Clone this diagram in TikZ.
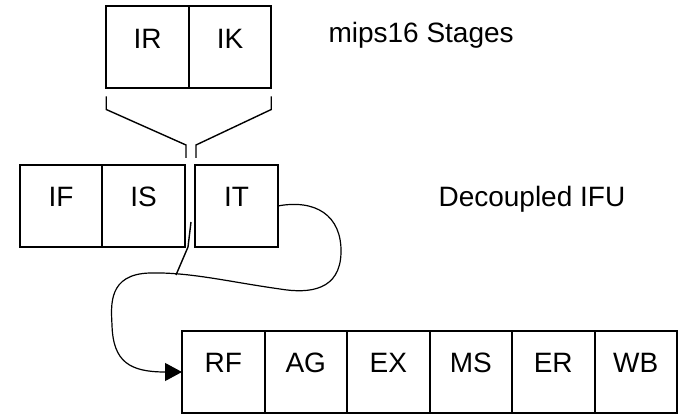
\documentclass[tikz,border=0pt]{standalone}
\usepackage{fontspec}
\setmainfont{Liberation Sans}
\usepackage{tikz}
\usetikzlibrary{positioning,arrows.meta}

\begin{document}
\begin{tikzpicture}[x=1pt,y=-1pt,
	stage/.style={draw, line width=2pt, outer sep=0pt, inner sep=0pt,
		minimum width=82.5pt, text height=42pt, text depth=40pt,
		font=\fontsize{28}{30}\selectfont},
	wire/.style={line width=1.4pt}]
	\useasboundingbox (0,0) rectangle (678,414);
	% mips16 stages
	\node[stage] (ir) at (147.5,47.5) {IR};
	\node[stage, right=0pt of ir] (ik) {IK};
	\node[anchor=base west, font=\fontsize{28}{30}\selectfont] (mips) at (325,43) {mips16 Stages};
	% decoupled ifu
	\node[stage] (if) at (61,206) {IF};
	\node[stage, right=0pt of if] (is) {IS};
	\node[stage, right=10.5pt of is] (it) {IT};
	\node[anchor=base west, font=\fontsize{28}{30}\selectfont] (ifu) at (435,207) {Decoupled IFU};
	% pipeline
	\node[stage] (rf) at (223.25,372) {RF};
	\node[stage, right=0pt of rf] (ag) {AG};
	\node[stage, right=0pt of ag] (ex) {EX};
	\node[stage, right=0pt of ex] (ms) {MS};
	\node[stage, right=0pt of ms] (er) {ER};
	\node[stage, right=0pt of er] (wb) {WB};
	% brackets
	\draw [wire] ([yshift=-8pt]ir.south west) -- ++(0,13) -- (186,145) -- (186,158);
	\draw [wire] ([yshift=-8pt]ik.south east) -- ++(0,13) -- (196,145) -- (196,158);
	\draw [wire] (191,222) -- (188,247) -- (176,275);
	% IT to RF
	\draw [line width=1.2pt, -{Triangle[length=17pt,width=18pt]}] (it.east)
		.. controls (315,199) and (342,215) .. (341,253)
		.. controls (340,290) and (310,294) .. (280,289)
		.. controls (230,282) and (190,272) .. (150,273)
		.. controls (108,274) and (111,305) .. (112,325)
		.. controls (113,362) and (130,372) .. (rf.west);
\end{tikzpicture}
\end{document}
